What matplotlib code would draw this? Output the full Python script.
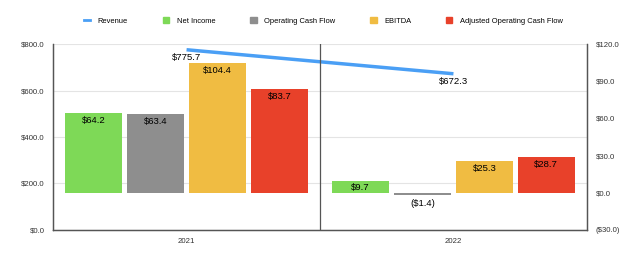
import matplotlib.pyplot as plt
import numpy as np
from matplotlib.lines import Line2D
from matplotlib.patches import Patch

plt.rcParams['font.family'] = ['Liberation Sans', 'DejaVu Sans']

years = ['2021', '2022']
revenue = [775.7, 672.3]
series_names = ['Net Income', 'Operating Cash Flow', 'EBITDA', 'Adjusted Operating Cash Flow']
net_income = [64.2, 9.7]
op_cash_flow = [63.4, -1.4]
ebitda = [104.4, 25.3]
adj_op_cash_flow = [83.7, 28.7]
colors = ['#7ed957', '#8e8e8e', '#f0bc42', '#e8412a']
rev_color = '#4a9ff5'


def money(v):
    return f'(${-v:.1f})' if v < 0 else f'${v:.1f}'


fig = plt.figure(figsize=(6.4, 2.61), dpi=100)
ax_rev = fig.add_axes([0.083, 0.119, 0.834, 0.712])
ax_bar = ax_rev.twinx()
ax_rev.set_zorder(1)
ax_bar.set_zorder(2)
ax_bar.patch.set_visible(False)

x = np.arange(len(years))

# revenue on the left axis
ax_rev.set_ylim(0, 800)
ax_rev.set_yticks(np.arange(0, 801, 200))
ax_rev.set_yticklabels([money(v) for v in np.arange(0, 801, 200)])
ax_rev.grid(axis='y', color='#e4e4e4', linewidth=0.8)
ax_rev.set_axisbelow(True)
ax_rev.plot(x, revenue, color=rev_color, linewidth=2.5, solid_capstyle='butt')
for xi, v in zip(x, revenue):
    ax_rev.annotate(money(v), (xi, v), xytext=(0, -2), textcoords='offset points',
                    ha='center', va='top', fontsize=6.8)

# bars on the right axis
width = 0.213
step = 0.232
all_series = [net_income, op_cash_flow, ebitda, adj_op_cash_flow]
for i, (vals, c) in enumerate(zip(all_series, colors)):
    pos = x + (i - 1.5) * step
    ax_bar.bar(pos, vals, width=width, color=c, label=series_names[i])
    for p, v in zip(pos, vals):
        ax_bar.annotate(money(v), (p, v), xytext=(0, -1.8 if v >= 0 else -3),
                        textcoords='offset points', ha='center', va='top', fontsize=6.8)

ax_bar.set_ylim(-30, 120)
ax_bar.set_yticks(np.arange(-30, 121, 30))
ax_bar.set_yticklabels([money(v) for v in np.arange(-30, 121, 30)])
ax_bar.axvline(0.5, color='#555555', linewidth=0.9)

ax_rev.set_xlim(-0.5, 1.5)
ax_rev.set_xticks(x)
ax_rev.set_xticklabels(years)

for a in (ax_rev, ax_bar):
    a.tick_params(length=0, labelsize=5.6, colors='#333333')
    a.spines['top'].set_visible(False)
    for s in ('left', 'right', 'bottom'):
        a.spines[s].set_color('#555555')
        a.spines[s].set_linewidth(0.9)
ax_rev.tick_params(axis='y', pad=6)
ax_bar.tick_params(axis='y', pad=6.5)
ax_rev.tick_params(axis='x', pad=6)

handles = [Line2D([0], [0], color=rev_color, linewidth=2)]
handles += [Patch(color=c) for c in colors]
fig.legend(handles, ['Revenue'] + series_names, loc='center', bbox_to_anchor=(0.505, 0.92),
           ncol=5, frameon=False, fontsize=5.4, handlelength=0.9, handleheight=0.9,
           columnspacing=4.6, handletextpad=1.0)

fig.savefig('out.png', dpi=100)
